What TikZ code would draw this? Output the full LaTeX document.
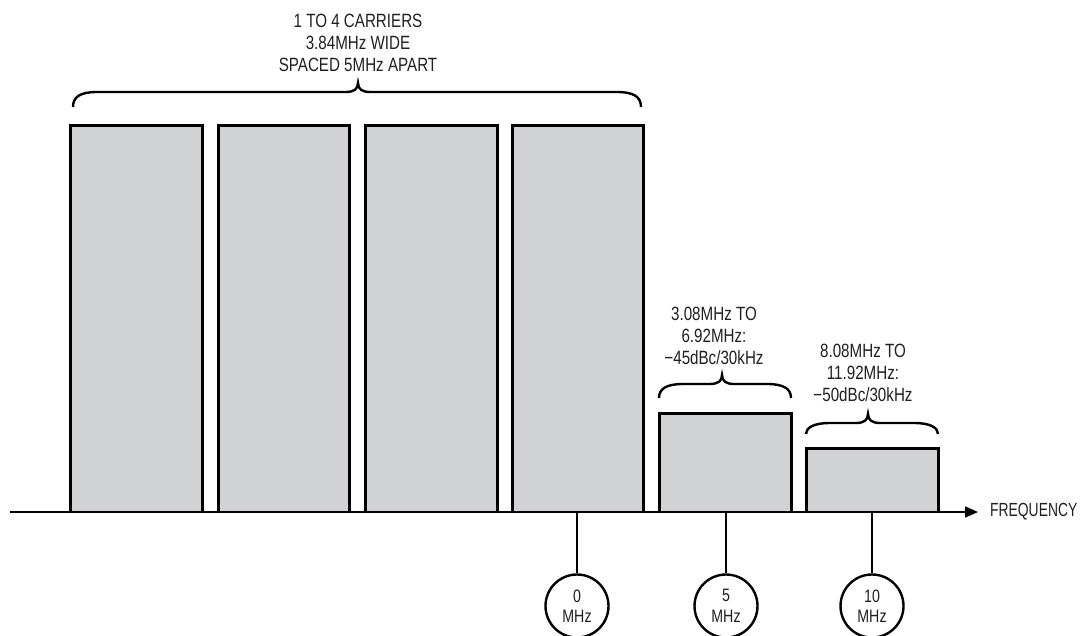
\documentclass[tikz,border=0pt]{standalone}
\usepackage{fontspec}
\setmainfont{Liberation Sans}[FakeStretch=0.79]
\newfontfamily\freqfont{Liberation Sans}[FakeStretch=0.73]
\usetikzlibrary{arrows.meta}
\definecolor{bargray}{HTML}{D1D2D4}
\definecolor{txt}{HTML}{231F20}
\tikzset{
  barfill/.style={fill=bargray},
  baredge/.style={line width=3pt, line join=miter},
  bracepath/.style={line width=2.4pt},
  lbl/.style={align=center, font=\fontsize{19.2}{22}\selectfont, inner sep=0pt, text=txt},
  mhz/.style={circle, draw, line width=2.4pt, minimum size=63pt, inner sep=0pt, align=center, font=\fontsize{18}{20.5}\selectfont, text=txt},
  tick/.style={line width=2.4pt},
  axis/.style={line width=1.4pt, -{Triangle[length=13pt,width=11pt]}}
}
\newcommand\mybrace[5]{% x1 x2 xm yend ytip ; straight at ytip+9
  \draw[bracepath] (#1,#4) .. controls (#1,#5+14) and (#1+7,#5+9) .. (#1+24,#5+9)
     -- (#3-12,#5+9) .. controls (#3-4,#5+9) and (#3,#5+6) .. (#3,#5)
     .. controls (#3,#5+6) and (#3+4,#5+9) .. (#3+12,#5+9)
     -- (#2-24,#5+9) .. controls (#2-7,#5+9) and (#2,#5+14) .. (#2,#4);}
\newcommand\mybar[3]{% x1 x2 ytop
  \fill[barfill] (#1,#3) rectangle (#2,512);
  \draw[baredge] (#1,512) -- (#1,#3) -- (#2,#3) -- (#2,512);}
\begin{document}
\begin{tikzpicture}[x=1pt,y=-1pt]
\useasboundingbox (0,0) rectangle (1083,636);
% bars
\mybar{70}{202}{126}
\mybar{218}{349}{126}
\mybar{365}{497}{126}
\mybar{512}{643}{126}
\mybar{659}{791}{413}
\mybar{806}{938}{448}
% axis
\coordinate (axl) at (10,512);
\coordinate (axr) at (978,512);
\draw[axis] (axl) -- (axr);
\node[lbl, anchor=west, font=\freqfont\fontsize{19}{22}\selectfont] (freq) at (990,512) {FREQUENCY};
% braces
\mybrace{73}{641}{358}{107}{83}
\mybrace{659}{791}{722}{398}{375}
\mybrace{806}{938}{868}{434}{414}
% labels
\node[lbl] (carriers) at (358,43) {1 TO 4 CARRIERS\\3.84MHz WIDE\\SPACED 5MHz APART};
\node[lbl] (adj1) at (714,336) {3.08MHz TO\\6.92MHz:\\\textminus45dBc/30kHz};
\node[lbl] (adj2) at (863,373) {8.08MHz TO\\11.92MHz:\\\textminus50dBc/30kHz};
% frequency markers
\node[mhz] (m0) at (577,606) {0\\MHz};
\node[mhz] (m5) at (726,606) {5\\MHz};
\node[mhz] (m10) at (872,606) {10\\MHz};
\coordinate (t0) at (577,512);
\coordinate (t5) at (726,512);
\coordinate (t10) at (872,512);
\draw[tick] (t0) -- (m0);
\draw[tick] (t5) -- (m5);
\draw[tick] (t10) -- (m10);
\end{tikzpicture}
\end{document}
